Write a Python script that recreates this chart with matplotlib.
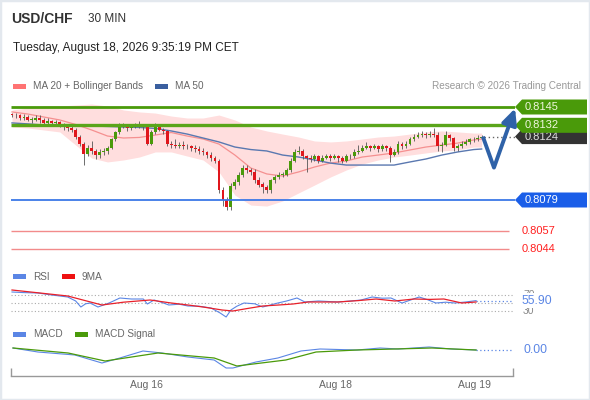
import matplotlib
matplotlib.use("Agg")
import matplotlib.pyplot as plt
import matplotlib.transforms as mtransforms
from matplotlib.patches import Polygon, Rectangle
import numpy as np

plt.rcParams['font.family'] = ['Liberation Sans', 'DejaVu Sans']

# ---------------- data ----------------
first_open = 0.8140
closes = [
    0.8139, 0.8139, 0.8137, 0.8138, 0.8136, 0.8136, 0.8137, 0.8136, 0.8134, 0.8135,
    0.8134, 0.8134, 0.8133, 0.8131, 0.8130, 0.8129, 0.8124, 0.8119, 0.8112, 0.8116,
    0.8114, 0.8111, 0.8113, 0.8114, 0.8116, 0.8122, 0.8127, 0.8132, 0.8132, 0.8130,
    0.8131, 0.8132, 0.8132, 0.8131, 0.8119, 0.8127, 0.8131, 0.8129, 0.8128, 0.8119,
    0.8118, 0.8117, 0.8118, 0.8117, 0.8117, 0.8116, 0.8115, 0.8114, 0.8113, 0.8111,
    0.8109, 0.8107, 0.8086, 0.8079, 0.8074, 0.8089, 0.8092, 0.8097, 0.8102, 0.8100,
    0.8099, 0.8093, 0.8090, 0.8088, 0.8086, 0.8093, 0.8095, 0.8097, 0.8097, 0.8100,
    0.8107, 0.8113, 0.8114, 0.8110, 0.8109, 0.8108, 0.8110, 0.8107, 0.8109, 0.8110,
    0.8109, 0.8110, 0.8109, 0.8107, 0.8110, 0.8110, 0.8113, 0.8114, 0.8116, 0.8117,
    0.8116, 0.8117, 0.8115, 0.8117, 0.8116, 0.8111, 0.8113, 0.8119, 0.8117, 0.8119,
    0.8122, 0.8124, 0.8125, 0.8126, 0.8125, 0.8126, 0.8125, 0.8117, 0.8118, 0.8125,
    0.8123, 0.8116, 0.8117, 0.8119, 0.8120, 0.8122, 0.8122, 0.8123, 0.8124]
highs = [
    0.8141, 0.8141, 0.8140, 0.8140, 0.8139, 0.8138, 0.8139, 0.8139, 0.8137, 0.8137,
    0.8136, 0.8136, 0.8135, 0.8134, 0.8133, 0.8132, 0.8130, 0.8125, 0.8120, 0.8118,
    0.8121, 0.8115, 0.8115, 0.8116, 0.8117, 0.8123, 0.8128, 0.8134, 0.8134, 0.8133,
    0.8133, 0.8134, 0.8135, 0.8133, 0.8132, 0.8129, 0.8134, 0.8132, 0.8130, 0.8129,
    0.8121, 0.8122, 0.8120, 0.8121, 0.8119, 0.8118, 0.8118, 0.8117, 0.8116, 0.8114,
    0.8113, 0.8110, 0.8108, 0.8088, 0.8081, 0.8091, 0.8094, 0.8099, 0.8104, 0.8104,
    0.8102, 0.8101, 0.8095, 0.8092, 0.8090, 0.8094, 0.8097, 0.8099, 0.8099, 0.8102,
    0.8109, 0.8115, 0.8117, 0.8115, 0.8111, 0.8111, 0.8112, 0.8111, 0.8111, 0.8112,
    0.8112, 0.8112, 0.8111, 0.8110, 0.8112, 0.8112, 0.8115, 0.8118, 0.8118, 0.8120,
    0.8118, 0.8119, 0.8118, 0.8119, 0.8118, 0.8117, 0.8115, 0.8121, 0.8120, 0.8121,
    0.8124, 0.8126, 0.8127, 0.8128, 0.8127, 0.8128, 0.8130, 0.8127, 0.8120, 0.8128,
    0.8126, 0.8124, 0.8119, 0.8121, 0.8122, 0.8123, 0.8124, 0.8125, 0.8125]
lows = [
    0.8138, 0.8137, 0.8136, 0.8136, 0.8135, 0.8134, 0.8135, 0.8134, 0.8133, 0.8133,
    0.8132, 0.8132, 0.8131, 0.8129, 0.8128, 0.8127, 0.8122, 0.8117, 0.8104, 0.8110,
    0.8112, 0.8108, 0.8109, 0.8111, 0.8112, 0.8115, 0.8121, 0.8126, 0.8130, 0.8128,
    0.8129, 0.8130, 0.8130, 0.8129, 0.8118, 0.8118, 0.8126, 0.8128, 0.8126, 0.8117,
    0.8116, 0.8116, 0.8116, 0.8115, 0.8115, 0.8114, 0.8113, 0.8112, 0.8111, 0.8109,
    0.8107, 0.8105, 0.8084, 0.8075, 0.8072, 0.8072, 0.8087, 0.8090, 0.8095, 0.8098,
    0.8097, 0.8091, 0.8088, 0.8084, 0.8084, 0.8084, 0.8091, 0.8094, 0.8095, 0.8096,
    0.8099, 0.8106, 0.8112, 0.8108, 0.8099, 0.8106, 0.8107, 0.8105, 0.8106, 0.8108,
    0.8107, 0.8108, 0.8106, 0.8105, 0.8106, 0.8108, 0.8109, 0.8112, 0.8113, 0.8115,
    0.8114, 0.8115, 0.8113, 0.8114, 0.8114, 0.8106, 0.8110, 0.8112, 0.8115, 0.8116,
    0.8118, 0.8121, 0.8123, 0.8124, 0.8123, 0.8124, 0.8124, 0.8114, 0.8113, 0.8117,
    0.8121, 0.8114, 0.8114, 0.8116, 0.8118, 0.8119, 0.8120, 0.8121, 0.8122]

# indicator samples (bar index -> value)
ind_idx = list(range(0, 117, 4)) + [118]
ma20 = [0.81415, 0.81400, 0.81379, 0.81358, 0.81326, 0.81287, 0.81244, 0.81230, 0.81234, 0.81251,
        0.81269, 0.81244, 0.81223, 0.81187, 0.81109, 0.81017, 0.80975, 0.80960, 0.80989, 0.81024,
        0.81052, 0.81067, 0.81095, 0.81109, 0.81124, 0.81145, 0.81166, 0.81180, 0.81194, 0.81216,
        0.81223]
ma50 = [0.81337, 0.81330, 0.81322, 0.81319, 0.81315, 0.81315, 0.81312, 0.81308, 0.81305, 0.81298,
        0.81280, 0.81258, 0.81230, 0.81202, 0.81166, 0.81148, 0.81138, 0.81109, 0.81095, 0.81074,
        0.81052, 0.81038, 0.81038, 0.81038, 0.81038, 0.81060, 0.81081, 0.81109, 0.81131, 0.81148,
        0.81152]
bb_upper = [0.81429, 0.81443, 0.81457, 0.81457, 0.81464, 0.81471, 0.81457, 0.81429, 0.81415, 0.81407,
            0.81386, 0.81372, 0.81372, 0.81393, 0.81358, 0.81308, 0.81280, 0.81258, 0.81237, 0.81209,
            0.81202, 0.81209, 0.81223, 0.81237, 0.81244, 0.81258, 0.81273, 0.81280, 0.81273, 0.81265,
            0.81265]
bb_lower = [0.81308, 0.81301, 0.81287, 0.81273, 0.81180, 0.81088, 0.81060, 0.81074, 0.81095, 0.81131,
            0.81131, 0.81102, 0.81074, 0.80989, 0.80825, 0.80754, 0.80747, 0.80783, 0.80840, 0.80896,
            0.80953, 0.81003, 0.81045, 0.81074, 0.81095, 0.81109, 0.81124, 0.81138, 0.81145, 0.81166,
            0.81166]

rsi_idx = [0, 3, 6.5, 10, 14, 16, 17.3, 18.5, 19.6, 21.6, 24.4, 27.1, 30, 33, 34, 35.7, 37.5, 39.4,
           42, 44.2, 47, 50, 52.3, 53.8, 55, 56.5, 58.3, 61, 63, 66.8, 69, 71.6, 73.6, 77, 81.9, 85,
           87.7, 90.5, 93, 95.2, 98, 100, 102.3, 104.5, 106.5, 109, 111.3, 114, 116.6]
rsi_vals = [77.5, 76, 75, 70, 65, 55, 40, 48, 50, 40, 50, 62.5, 60, 60, 47.5, 57.5, 52, 45,
            47, 42.5, 42, 37.5, 25, 15, 32.5, 42, 50, 48, 40, 50, 55, 62.5, 52.5, 55, 52.5, 55,
            57.5, 65, 62, 62.5, 50, 57, 65, 58, 50, 52, 50, 52.5, 55.9]
ma9_idx = [0, 7, 14, 18, 22.6, 28, 34.7, 40, 44.2, 48, 52.8, 55.5, 59, 63, 67, 70.6, 74.4, 81.9,
           87, 91.5, 96.2, 101, 105, 108.5, 113, 116.6]
ma9_vals = [82.5, 75, 67.5, 57, 45, 52, 57.5, 50, 45, 40, 32.5, 30, 36, 42.5, 45, 47.5, 52.5, 52.5,
            56, 60, 55, 60, 59, 60, 50, 52.5]
rsi_last = 55.90

macd_idx = [0.25, 6.5, 15.8, 22.6, 27.1, 32.9, 37.7, 44.2, 50.8, 53.8, 55.5, 61.3, 66.8, 72.6,
            77.4, 86.7, 92.5, 97, 104.8, 110.3, 116.6]
macd_vals = [0.00002, -0.00002, -0.00005, -0.00013, -0.00008, -0.00001, -0.00003, -0.00007,
             -0.00010, -0.00018, -0.00018, -0.00012, -0.00008, -0.00001, 0.00001, 0.0, 0.00002,
             0.00001, 0.00003, 0.00001, 0.0]
sig_idx = [0.25, 14.1, 23.4, 36.7, 50.8, 56.5, 68.8, 76.4, 86.7, 96.2, 105.5, 116.6]
sig_vals = [0.00002, -0.00003, -0.00011, -0.00003, -0.00008, -0.00016, -0.00010, -0.00002,
            0.0, 0.00001, 0.00002, 0.0]

resistances = [0.8145, 0.8132]
support = 0.8079
red_levels = [0.8057, 0.8044]
last_price = 0.8124
arrow_low = 0.8102
arrow_target = 0.8144

date_labels = ['Aug 16', 'Aug 18', 'Aug 19']
date_idx = [33.7, 81.2, 116.3]

# ---------------- layout helpers ----------------
W, H = 590, 400
fig = plt.figure(figsize=(W / 100, H / 100), dpi=100)
fig.patch.set_facecolor('white')


def add_px_axes(l, t, r, b):
    a = fig.add_axes([l / W, 1 - b / H, (r - l) / W, (b - t) / H])
    a.set_axis_off()
    return a


X0, DX = 12.0, 3.98


def xpx(p):
    return (p - X0) / DX


Y_REF, P_REF, PPX = 107.0, 0.8145, 0.0066 / 93


def price_at(y):
    return P_REF - (y - Y_REF) * PPX


GREEN = '#4a9a0a'
RED_C = '#e0161c'
BLUE_T = '#5b86e5'

# ---------------- header ----------------
fig.text(11 / W, 1 - 19 / H, 'USD/CHF', fontsize=10, fontweight='bold', color='#333333', va='center')
fig.text(88 / W, 1 - 19 / H, '30 MIN', fontsize=8.5, color='#333333', va='center')
fig.text(13 / W, 1 - 48 / H, 'Tuesday, August 18, 2026 9:35:19 PM CET', fontsize=8.5,
         color='#222222', va='center')


def legend_item(x, y, color, label, w=13):
    fig.add_artist(Rectangle((x / W, 1 - (y + 2.5) / H), w / W, 5 / H, transform=fig.transFigure,
                             facecolor=color, edgecolor='none'))
    fig.text((x + w + 7) / W, 1 - y / H, label, fontsize=7.2, color='#666666', va='center')


legend_item(13, 86, '#ff7373', 'MA 20 + Bollinger Bands')
legend_item(155, 86, '#3a5f9f', 'MA 50')
fig.text(581 / W, 1 - 86 / H, 'Research \u00a9 2026 Trading Central', fontsize=7.2,
         color='#999999', va='center', ha='right')

# ---------------- main price panel ----------------
ax = add_px_axes(11, 95, 515, 262)
ax.set_xlim(xpx(11), xpx(515))
ax.set_ylim(price_at(262), price_at(95))

ax.fill_between(ind_idx, bb_lower, bb_upper, color='#ffdede', lw=0, zorder=1)
ax.plot(ind_idx, ma20, color='#f59090', lw=0.9, zorder=2)
ax.plot(ind_idx, ma50, color='#5a78b0', lw=1.0, zorder=2)

n = len(closes)
idx = np.arange(n)
opens = [first_open] + closes[:-1]
bottoms = [min(o, c) for o, c in zip(opens, closes)]
heights = [max(abs(c - o), 0.00003) for o, c in zip(opens, closes)]
cols = [GREEN if c >= o else RED_C for o, c in zip(opens, closes)]
ax.vlines(idx, lows, highs, color='#555555', lw=0.6, zorder=3)
ax.bar(idx, heights, bottom=bottoms, width=0.72, color=cols, linewidth=0, zorder=4)

ax.hlines(resistances[0], xpx(11), xpx(515), color=GREEN, lw=2.0, zorder=5)
ax.hlines(resistances[1], xpx(11), xpx(515), color='#5aa51a', lw=2.4, zorder=5)
ax.hlines(support, xpx(11), xpx(515), color='#3b78e7', lw=1.3, zorder=5)
for lv in red_levels:
    ax.hlines(lv, xpx(11), xpx(509), color='#f28b8b', lw=1.0, zorder=5)
ax.hlines(last_price, n - 0.5, xpx(515), color='#666666', lw=1.0, linestyles=(0, (1, 2)), zorder=5)

# forecast arrow
ax.plot([n - 0.7, n + 2.1], [last_price, arrow_low], color='#2f62a8', lw=2.8,
        solid_capstyle='butt', zorder=9, clip_on=False)
ax.annotate('', xy=(n + 7.4, arrow_target), xytext=(n + 2.1, arrow_low),
            arrowprops=dict(arrowstyle='-|>,head_length=0.95,head_width=0.45', color='#2f62a8',
                            lw=2.8, shrinkA=0, shrinkB=0),
            annotation_clip=False, zorder=9)

trans = mtransforms.blended_transform_factory(fig.transFigure, ax.transData)


def level_box(price, face, tcolor, z):
    h = 7.5 * PPX
    xs = [515, 522, 587, 587, 522]
    ys = [price, price + h, price + h, price - h, price - h]
    ax.add_patch(Polygon(list(zip([x / W for x in xs], ys)), closed=True, transform=trans,
                         facecolor=face, edgecolor='none', clip_on=False, zorder=z))
    ax.text(525 / W, price, f'{price:.4f}', transform=trans, color=tcolor, fontsize=8,
            va='center', ha='left', zorder=z + 0.1, clip_on=False)


level_box(last_price, '#333333', '#e0e0e0', 6)
level_box(resistances[1], GREEN, '#eef7dd', 7)
level_box(resistances[0], GREEN, '#eef7dd', 7)
level_box(support, '#1a5ee8', '#ffffff', 7)
for lv in red_levels:
    ax.text(522 / W, lv, f'{lv:.4f}', transform=trans, color='#ff2020', fontsize=8,
            va='center', ha='left', clip_on=False)

# ---------------- RSI panel ----------------
legend_item(13, 276.5, BLUE_T, 'RSI')
legend_item(62, 276.5, '#ee1111', '9MA')
axr = add_px_axes(11, 285, 515, 320)
axr.set_xlim(xpx(11), xpx(515))
axr.set_ylim(7.5, 95)
axr.hlines([70, 50, 30], xpx(11), xpx(513), colors='#aaaaaa', lw=0.8, linestyles=(0, (1, 2)))
axr.plot(rsi_idx, rsi_vals, color=BLUE_T, lw=0.8, zorder=3)
axr.plot(ma9_idx, ma9_vals, color='#e8202a', lw=0.9, zorder=3)
axr.hlines(rsi_last, rsi_idx[-1], xpx(513), colors=BLUE_T, lw=0.9, linestyles=(0, (1, 2)))
tr_r = mtransforms.blended_transform_factory(fig.transFigure, axr.transData)
axr.text(523 / W, 70, '70', transform=tr_r, color='#888888', fontsize=7.5, va='center', clip_on=False)
axr.text(523 / W, 30, '30', transform=tr_r, color='#888888', fontsize=7.5, va='center', clip_on=False)
axr.text(522 / W, rsi_last, f'{rsi_last:.2f}', transform=tr_r, color=BLUE_T, fontsize=8.8,
         va='center', clip_on=False,
         bbox=dict(boxstyle='square,pad=0.12', facecolor='white', edgecolor='none'))

# ---------------- MACD panel ----------------
legend_item(13, 334, BLUE_T, 'MACD')
legend_item(75, 334, GREEN, 'MACD Signal')
axm = add_px_axes(11, 338, 515, 372)
axm.set_xlim(xpx(11), xpx(515))
axm.set_ylim(-0.00022, 0.00012)
axm.plot(macd_idx, macd_vals, color=BLUE_T, lw=0.8, zorder=3)
axm.plot(sig_idx, sig_vals, color=GREEN, lw=0.9, zorder=3)
axm.hlines(0, macd_idx[-1], xpx(513), colors=BLUE_T, lw=0.9, linestyles=(0, (1, 2)))
tr_m = mtransforms.blended_transform_factory(fig.transFigure, axm.transData)
axm.text(524 / W, 0, '0.00', transform=tr_m, color=BLUE_T, fontsize=8.8, va='center', clip_on=False)

# ---------------- time axis ----------------
axt = fig.add_axes([11 / W, 1 - 376 / H, (513 - 11) / W, 10 / H])
axt.set_facecolor('none')
for s in ['top', 'left', 'right']:
    axt.spines[s].set_visible(False)
axt.spines['bottom'].set_color('#999999')
axt.spines['bottom'].set_linewidth(1.0)
axt.set_yticks([])
axt.set_xlim(xpx(11), xpx(513))
axt.set_xticks([xpx(11), xpx(513)])
axt.set_xticklabels(['', ''])
axt.tick_params(axis='x', which='major', direction='in', length=6, color='#999999', width=1)
axt.set_xticks(date_idx, minor=True)
axt.set_xticklabels(date_labels, minor=True)
axt.tick_params(axis='x', which='minor', length=0, labelsize=7.5, labelcolor='#666666', pad=3)

# border
fig.add_artist(Rectangle((0, 0), 1, 1, transform=fig.transFigure, fill=False,
                         edgecolor='#e3e8ee', lw=2.5))

fig.savefig('out.png', dpi=100, facecolor='white')
